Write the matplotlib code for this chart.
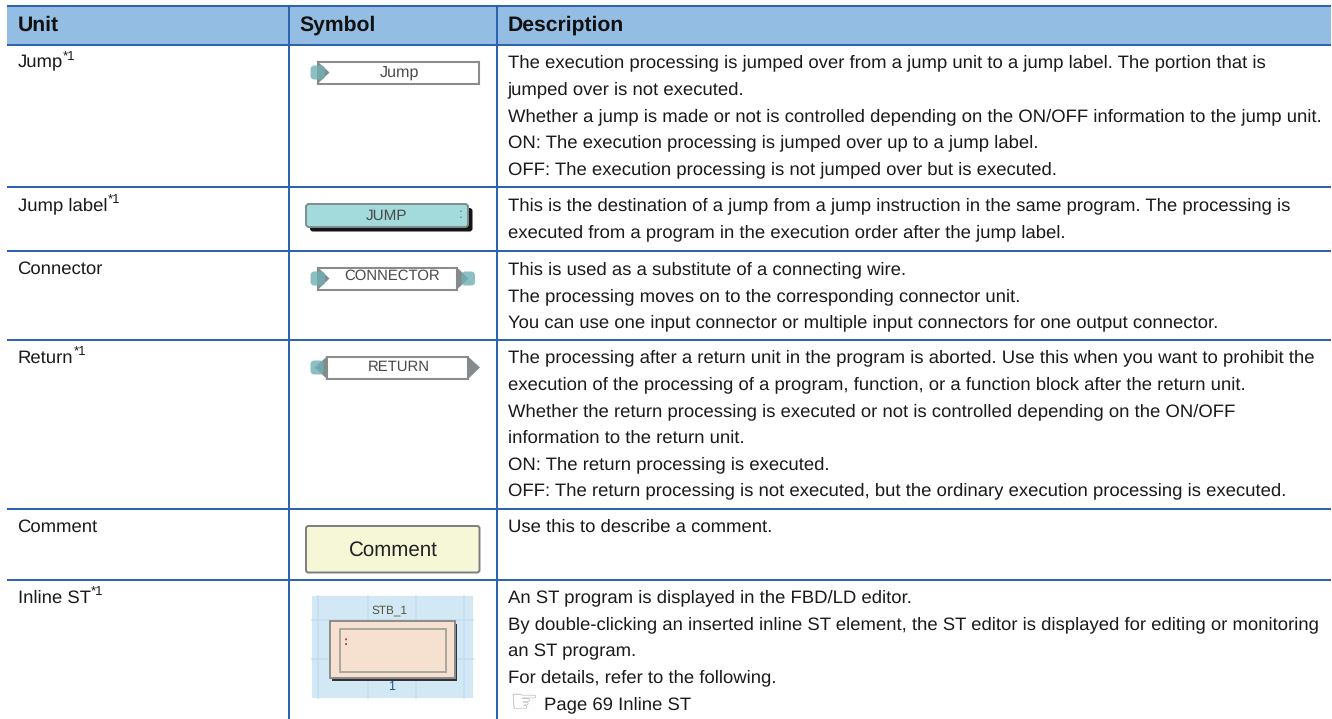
import matplotlib
matplotlib.use('Agg')
import matplotlib.pyplot as plt
from matplotlib.patches import Rectangle, FancyBboxPatch, Polygon

plt.rcParams['font.family'] = ['Liberation Sans', 'DejaVu Sans']
plt.rcParams['text.hinting'] = 'no_hinting'

W, H = 1332, 719
BLUE = '#2f63b0'
HEAD = '#93bde3'
TXT = '#1a1a1a'
FS = 13.3
LINE = 26.6

headers = ['Unit', 'Symbol', 'Description']
units = ['Jump', 'Jump label', 'Connector', 'Return', 'Comment', 'Inline ST']
footnote = [True, True, False, True, False, True]

row_lines = [6, 44.5, 187, 251, 339.5, 509, 579.5]
col_lines = [289, 497]
left, right = 7, 1330.5

desc_jump = ['The execution processing is jumped over from a jump unit to a jump label. The portion that is',
             'jumped over is not executed.',
             'Whether a jump is made or not is controlled depending on the ON/OFF information to the jump unit.',
             'ON: The execution processing is jumped over up to a jump label.',
             'OFF: The execution processing is not jumped over but is executed.']
desc_label = ['This is the destination of a jump from a jump instruction in the same program. The processing is',
              'executed from a program in the execution order after the jump label.']
desc_conn = ['This is used as a substitute of a connecting wire.',
             'The processing moves on to the corresponding connector unit.',
             'You can use one input connector or multiple input connectors for one output connector.']
desc_ret = ['The processing after a return unit in the program is aborted. Use this when you want to prohibit the',
            'execution of the processing of a program, function, or a function block after the return unit.',
            'Whether the return processing is executed or not is controlled depending on the ON/OFF',
            'information to the return unit.',
            'ON: The return processing is executed.',
            'OFF: The return processing is not executed, but the ordinary execution processing is executed.']
desc_comment = ['Use this to describe a comment.']
desc_inline = ['An ST program is displayed in the FBD/LD editor.',
               'By double-clicking an inserted inline ST element, the ST editor is displayed for editing or monitoring',
               'an ST program.',
               'For details, refer to the following.']
page_ref = 'Page 69 Inline ST'
descriptions = [desc_jump, desc_label, desc_conn, desc_ret, desc_comment, desc_inline]

fig = plt.figure(figsize=(W / 100, H / 100), dpi=100)
ax = fig.add_axes([0, 0, 1, 1])
ax.set_xlim(0, W)
ax.set_ylim(H, 0)
ax.axis('off')

# header band
ax.add_patch(Rectangle((left, row_lines[0]), right - left, row_lines[1] - row_lines[0], fc=HEAD, ec='none'))
for x, s in zip([17.5, 299.3, 507.7], headers):
    ax.text(x, 30.5, s, fontsize=15.2, fontweight='bold', color='#111111', va='baseline')

# grid lines
for y in row_lines:
    ax.plot([left, right], [y, y], color=BLUE, lw=1.45, solid_capstyle='butt')
for x in col_lines:
    ax.plot([x, x], [row_lines[0], H], color=BLUE, lw=1.45, solid_capstyle='butt')

# text of the rows
for i, unit in enumerate(units):
    base = row_lines[i + 1] + 23.2
    t = ax.text(17.5, base, unit, fontsize=FS, color=TXT, va='baseline')
    if footnote[i]:
        bb = t.get_window_extent(fig.canvas.get_renderer())
        ax.text(bb.x1 + 0.5, base - 7.5, '*1', fontsize=9.5, color=TXT, va='baseline')
    for j, line in enumerate(descriptions[i]):
        ax.text(507.7, base + j * LINE, line, fontsize=FS, color=TXT, va='baseline')

# page reference with the hand glyph
ref_y = row_lines[6] + 23.7 + 4 * LINE
ax.text(544.3, ref_y, page_ref, fontsize=FS, color=TXT, va='baseline')
ax.text(509, ref_y + 1.5, '\u261e', fontsize=23, color='#a8a8a8', va='baseline', family='DejaVu Sans')


def port(x, y, w=14.5):
    ax.add_patch(FancyBboxPatch((x, y - 7), w, 14, boxstyle='round,pad=0,rounding_size=4',
                                fc='#6fb0b5', ec='none', alpha=0.8, zorder=5))


def arrow(pts, color='#858a8d'):
    ax.add_patch(Polygon(pts, closed=True, fc=color, ec='none', zorder=4))


THIN = '#4a4a4a'

# Jump symbol
ax.add_patch(Rectangle((317.5, 62), 161.5, 22, fc='white', ec='#8c8c8c', lw=1.5, zorder=2))
arrow([(317, 61), (329.5, 72.5), (317, 84.5)])
port(310.5, 72.5)
ax.text(399, 73, 'Jump', fontsize=11.6, color=THIN, ha='center', va='center', zorder=6)

# Jump label symbol
ax.add_patch(FancyBboxPatch((310, 208), 162.5, 23.5, boxstyle='round,pad=0,rounding_size=3',
                            fc='#141414', ec='none', zorder=2))
ax.add_patch(FancyBboxPatch((306, 204), 162, 23, boxstyle='round,pad=0,rounding_size=3',
                            fc='#a3dadc', ec='#7f8c8e', lw=1.4, zorder=3))
ax.text(386.7, 216, 'JUMP', fontsize=11, color=THIN, ha='center', va='center', zorder=6)
ax.text(461, 214.5, ':', fontsize=10, color='#777777', ha='center', va='center', zorder=6)

# Connector symbol
ax.add_patch(Rectangle((317.5, 267.5), 139, 22.5, fc='white', ec='#8c8c8c', lw=1.5, zorder=2))
arrow([(317, 266.5), (329.5, 278.5), (317, 290.5)])
arrow([(456, 266.5), (468.5, 278.5), (456, 290.5)])
port(310.5, 278.5)
port(461.5, 278.5, 13.5)
ax.text(392.3, 276, 'CONNECTOR', fontsize=10.7, color=THIN, ha='center', va='center', zorder=6)

# Return symbol
ax.add_patch(Rectangle((327, 356.5), 141, 22.5, fc='white', ec='#8c8c8c', lw=1.5, zorder=2))
arrow([(327.5, 356), (314.5, 367.5), (327.5, 379.5)])
arrow([(467.5, 356), (480, 367.5), (467.5, 379.5)])
port(310.5, 367.5, 13)
ax.text(398.3, 366.5, 'RETURN', fontsize=10.7, color=THIN, ha='center', va='center', zorder=6)

# Comment symbol
ax.add_patch(FancyBboxPatch((306, 526), 173.5, 46.5, boxstyle='round,pad=0,rounding_size=2.5',
                            fc='#f6f7d7', ec='#7d7d7d', lw=1.4, zorder=3))
ax.text(393.3, 550, 'Comment', fontsize=14.8, color='#222222', ha='center', va='center', zorder=6)

# Inline ST symbol
ax.add_patch(Rectangle((312, 596), 161, 102, fc='#d2e8f5', ec='none', zorder=1))
for x in [318, 367.5, 416, 464]:
    ax.plot([x, x], [596, 698], color='#c5deee', lw=1.2, zorder=1)
for y in [620, 659]:
    ax.plot([312, 473], [y, y], color='#c5deee', lw=1.2, zorder=1)
ax.add_patch(Rectangle((332, 624), 125, 57, fc='#333333', ec='none', zorder=2))
ax.add_patch(Rectangle((329.5, 621), 125, 57, fc='#f6e0cf', ec='#8c8c8c', lw=1.4, zorder=3))
ax.add_patch(Rectangle((340, 629), 105.5, 43, fc='none', ec='#aaa79f', lw=1.4, zorder=4))
ax.text(346, 641.5, ':', fontsize=9, fontweight='bold', color='#b03030', ha='center', va='center', zorder=6)
ax.text(389.3, 610.7, 'STB_1', fontsize=8.5, color='#555540', ha='center', va='center', zorder=6)
ax.text(391.7, 687, '1', fontsize=9, color='#24527a', ha='center', va='center', zorder=6)

fig.savefig('out.png', dpi=100, facecolor='white')
